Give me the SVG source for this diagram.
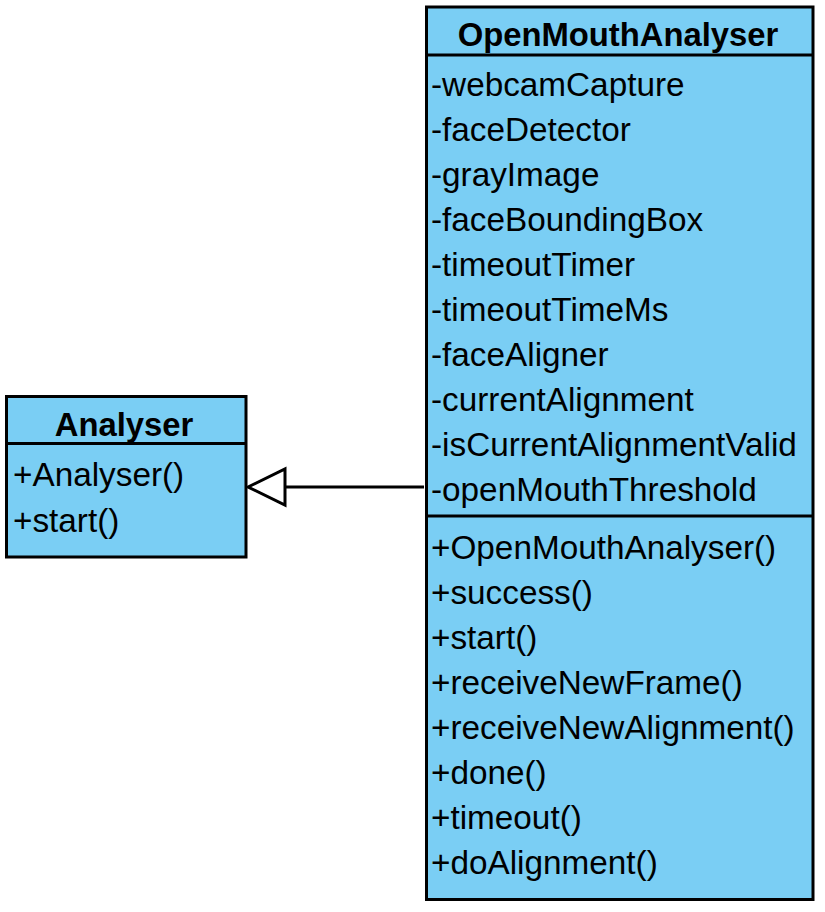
<svg xmlns="http://www.w3.org/2000/svg" width="825" height="912" viewBox="0 0 825 912">
<style>
.box{fill:#7ACEF4;stroke:#000;stroke-width:3}
.ln{stroke:#000;stroke-width:3;fill:none}
.t{font-family:"Liberation Sans",Arial,sans-serif;font-size:33.3px;fill:#000}
.h{font-family:"Liberation Sans",Arial,sans-serif;font-size:32.8px;font-weight:bold;fill:#000;text-anchor:middle}
</style>
<rect width="825" height="912" fill="#fff"/>
<g id="connectors">
<line class="ln" x1="285" y1="487" x2="424" y2="487"/>
<polygon points="248,487 285,469 285,505" fill="#fff" stroke="#000" stroke-width="3"/>
</g>
<g id="Analyser">
<rect class="box" x="6.5" y="396.5" width="239.5" height="160.5"/>
<line class="ln" x1="6.5" y1="443.5" x2="246" y2="443.5"/>
<text class="h" x="124" y="436">Analyser</text>
<text class="t" x="13" y="486">+Analyser()</text>
<text class="t" x="13" y="532">+start()</text>
</g>
<g id="OpenMouthAnalyser">
<rect class="box" x="426.5" y="7" width="386.5" height="892.5"/>
<line class="ln" x1="426.5" y1="55" x2="813" y2="55"/>
<line class="ln" x1="426.5" y1="516" x2="813" y2="516"/>
<text class="h" x="618" y="46">OpenMouthAnalyser</text>
<text class="t" x="431" y="96">-webcamCapture</text>
<text class="t" x="431" y="141">-faceDetector</text>
<text class="t" x="431" y="186">-grayImage</text>
<text class="t" x="431" y="231">-faceBoundingBox</text>
<text class="t" x="431" y="276">-timeoutTimer</text>
<text class="t" x="431" y="321">-timeoutTimeMs</text>
<text class="t" x="431" y="366">-faceAligner</text>
<text class="t" x="431" y="411">-currentAlignment</text>
<text class="t" x="431" y="456">-isCurrentAlignmentValid</text>
<text class="t" x="431" y="501">-openMouthThreshold</text>
<text class="t" x="431" y="559">+OpenMouthAnalyser()</text>
<text class="t" x="431" y="604">+success()</text>
<text class="t" x="431" y="649">+start()</text>
<text class="t" x="431" y="694">+receiveNewFrame()</text>
<text class="t" x="431" y="739">+receiveNewAlignment()</text>
<text class="t" x="431" y="784">+done()</text>
<text class="t" x="431" y="829">+timeout()</text>
<text class="t" x="431" y="874">+doAlignment()</text>
</g>
</svg>
